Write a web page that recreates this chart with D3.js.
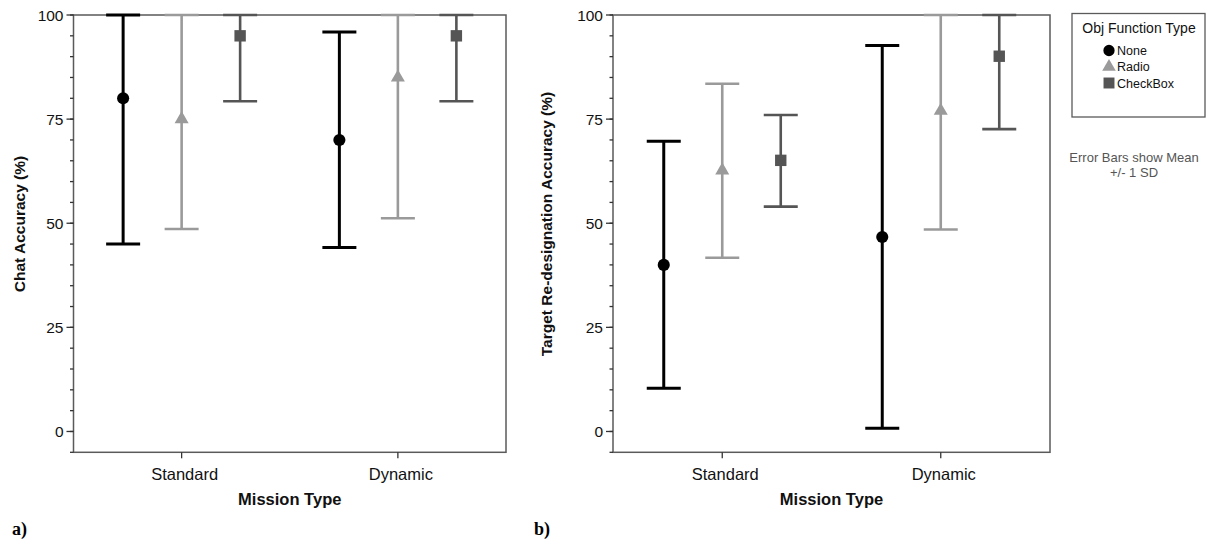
<!DOCTYPE html>
<html>
<head>
<meta charset="utf-8">
<script src="https://cdn.jsdelivr.net/npm/d3@7"></script>
<style>
  body { margin: 0; background: #fff; }
  svg { display: block; font-family: "Liberation Sans", Arial, Helvetica, sans-serif; }
</style>
</head>
<body>
<svg id="chart" width="1208" height="544"></svg>
<script>
// ---- data ----
const missionTypes = ["Standard", "Dynamic"];
const funcTypes = ["None", "Radio", "CheckBox"];
const yTicks = [0, 25, 50, 75, 100];
// order: Standard-None, Standard-Radio, Standard-CheckBox, Dynamic-None, Dynamic-Radio, Dynamic-CheckBox
const chatMean = [80, 75, 95, 70, 85, 95];
const chatLow  = [45.0, 48.6, 79.3, 44.2, 51.2, 79.3];
const chatHigh = [100, 100, 100, 95.9, 100, 100];
const targetMean = [40.0, 62.7, 65.1, 46.7, 77.0, 90.1];
const targetLow  = [10.4, 41.7, 54.0, 0.8, 48.5, 72.6];
const targetHigh = [69.7, 83.5, 76.0, 92.7, 100, 100];

const colors = { None: "#000000", Radio: "#9a9a9a", CheckBox: "#555555" };
const symbols = { None: d3.symbolCircle, Radio: d3.symbolTriangle, CheckBox: d3.symbolSquare };
const symSize = { None: 115, Radio: 85, CheckBox: 130 };
const lineW = { None: 3, Radio: 2.6, CheckBox: 2.6 };

const svg = d3.select("#chart");
const frameColor = "#5a5a5a";

function panel(opts) {
  const { x0, x1, mean, low, high, ylabel, ylabelX, tag, tagX } = opts;
  const yTop = 15, yBot = 452.3;
  const y = d3.scaleLinear().domain([-5, 100]).range([yBot, yTop]);
  const x = d3.scalePoint().domain(missionTypes).range([x0, x1]).padding(0.5);
  const sub = d3.scalePoint().domain(funcTypes).range([-58.5, 58.5]);
  const g = svg.append("g");

  // frame
  g.append("rect").attr("x", x0).attr("y", yTop).attr("width", x1 - x0).attr("height", yBot - yTop)
    .attr("fill", "none").attr("stroke", frameColor).attr("stroke-width", 1.5);

  // y axis ticks
  const minor = d3.range(-5, 101, 5);
  g.selectAll(".minor").data(minor).join("line")
    .attr("x1", x0 - 3.5).attr("x2", x0).attr("y1", d => y(d)).attr("y2", d => y(d))
    .attr("stroke", "#333").attr("stroke-width", 1.3);
  g.selectAll(".major").data(yTicks).join("line")
    .attr("x1", x0 - 7).attr("x2", x0).attr("y1", d => y(d)).attr("y2", d => y(d))
    .attr("stroke", "#333").attr("stroke-width", 1.3);
  g.selectAll(".ylab").data(yTicks).join("text")
    .attr("x", x0 - 10).attr("y", d => y(d)).attr("dy", "0.36em")
    .attr("text-anchor", "end").attr("font-size", 15.5).attr("fill", "#111")
    .text(d => d);

  // x ticks
  g.selectAll(".xt").data(missionTypes).join("line")
    .attr("x1", d => x(d)).attr("x2", d => x(d)).attr("y1", yBot).attr("y2", yBot + 6)
    .attr("stroke", "#333").attr("stroke-width", 1.3);
  g.selectAll(".xl").data(missionTypes).join("text")
    .attr("x", d => x(d) + 3).attr("y", yBot + 28)
    .attr("text-anchor", "middle").attr("font-size", 16.5).attr("fill", "#111")
    .text(d => d);

  // axis titles
  g.append("text").attr("x", (x0 + x1) / 2).attr("y", 505)
    .attr("text-anchor", "middle").attr("font-size", 16.5).attr("font-weight", "bold").attr("fill", "#111")
    .text("Mission Type");
  g.append("text").attr("transform", `translate(${ylabelX},224) rotate(-90)`)
    .attr("text-anchor", "middle").attr("font-size", 15.5).attr("font-weight", "bold").attr("fill", "#111")
    .text(ylabel);

  // panel tag
  g.append("text").attr("x", tagX).attr("y", 535)
    .attr("font-family", "'Liberation Serif', 'Times New Roman', serif")
    .attr("font-size", 18).attr("font-weight", "bold").attr("fill", "#000")
    .text(tag);

  // data rows
  const rows = [];
  missionTypes.forEach((m, i) => funcTypes.forEach((f, j) => {
    const k = i * funcTypes.length + j;
    rows.push({ m, f, mean: mean[k], lo: low[k], hi: high[k] });
  }));
  const cx = d => x(d.m) + sub(d.f);
  const capHalf = 17;

  const eb = g.selectAll(".eb").data(rows).join("g");
  eb.append("line").attr("x1", cx).attr("x2", cx).attr("y1", d => y(d.lo)).attr("y2", d => y(d.hi))
    .attr("stroke", d => colors[d.f]).attr("stroke-width", d => lineW[d.f]);
  eb.append("line").attr("x1", d => cx(d) - capHalf).attr("x2", d => cx(d) + capHalf)
    .attr("y1", d => y(d.lo)).attr("y2", d => y(d.lo))
    .attr("stroke", d => colors[d.f]).attr("stroke-width", d => lineW[d.f]);
  eb.append("line").attr("x1", d => cx(d) - capHalf).attr("x2", d => cx(d) + capHalf)
    .attr("y1", d => y(d.hi)).attr("y2", d => y(d.hi))
    .attr("stroke", d => colors[d.f]).attr("stroke-width", d => lineW[d.f]);
  eb.append("path")
    .attr("d", d => d3.symbol().type(symbols[d.f]).size(symSize[d.f])())
    .attr("transform", d => `translate(${cx(d)},${y(d.mean)})`)
    .attr("fill", d => colors[d.f]);
}

panel({ x0: 73.5, x1: 506, mean: chatMean, low: chatLow, high: chatHigh,
        ylabel: "Chat Accuracy (%)", ylabelX: 25, tag: "a)", tagX: 12 });
panel({ x0: 613, x1: 1050, mean: targetMean, low: targetLow, high: targetHigh,
        ylabel: "Target Re-designation Accuracy (%)", ylabelX: 552, tag: "b)", tagX: 534 });

// legend
const lg = svg.append("g");
lg.append("rect").attr("x", 1072).attr("y", 13.5).attr("width", 133).attr("height", 103.5)
  .attr("fill", "#fff").attr("stroke", frameColor).attr("stroke-width", 1.3);
lg.append("text").attr("x", 1139).attr("y", 33).attr("text-anchor", "middle")
  .attr("font-size", 14).attr("fill", "#111").text("Obj Function Type");
const legY = d3.scalePoint().domain(funcTypes).range([50.5, 83]);
const legSize = { None: 100, Radio: 80, CheckBox: 120 };
lg.selectAll(".li").data(funcTypes).join("path")
  .attr("d", f => d3.symbol().type(symbols[f]).size(legSize[f])())
  .attr("transform", f => `translate(1109,${legY(f)})`)
  .attr("fill", f => colors[f]);
lg.selectAll(".lt").data(funcTypes).join("text")
  .attr("x", 1117).attr("y", f => legY(f) + 4.5)
  .attr("font-size", 12.5).attr("fill", "#111").text(f => f);

svg.append("text").attr("x", 1134).attr("y", 162).attr("text-anchor", "middle")
  .attr("font-size", 13).attr("fill", "#555").text("Error Bars show Mean");
svg.append("text").attr("x", 1134).attr("y", 177).attr("text-anchor", "middle")
  .attr("font-size", 13).attr("fill", "#555").text("+/- 1 SD");
</script>
</body>
</html>
